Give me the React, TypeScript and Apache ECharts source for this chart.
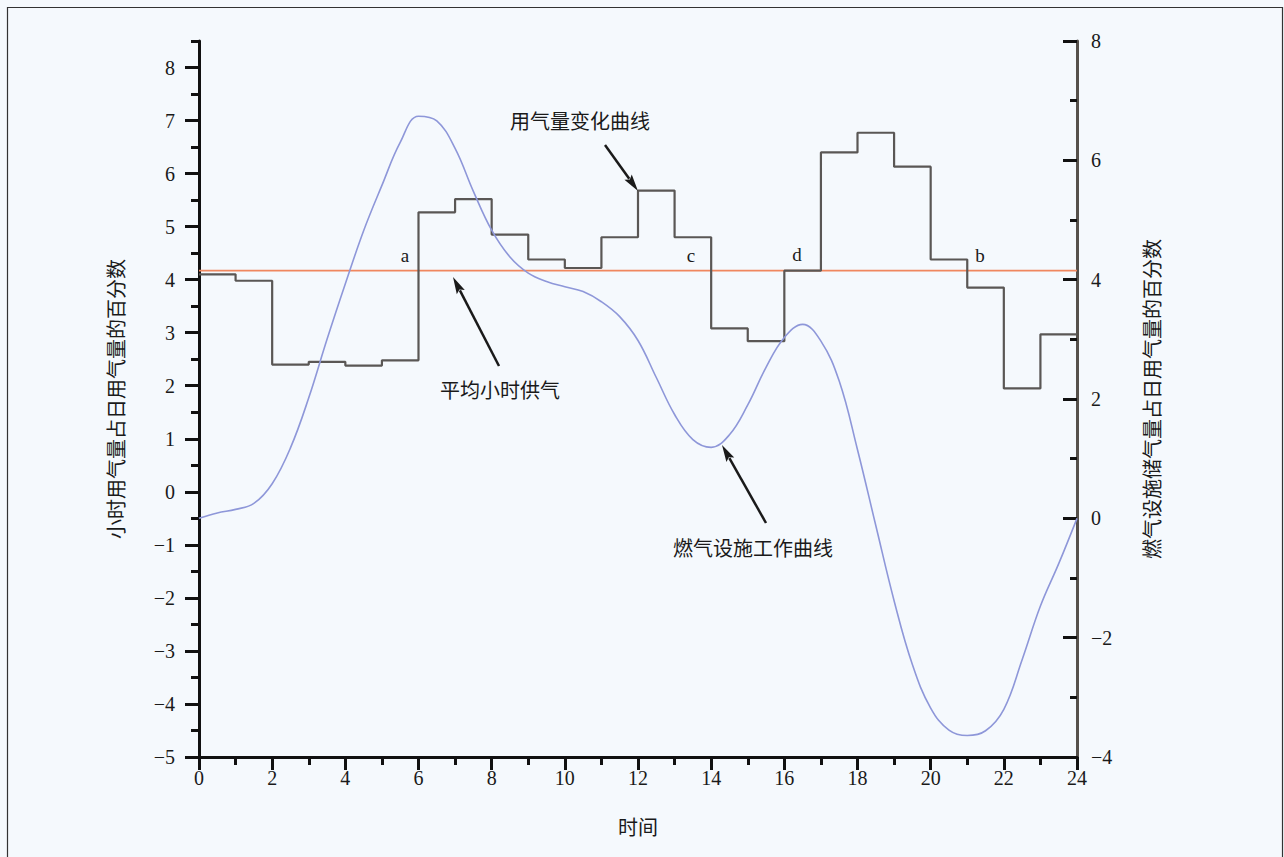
import React, { useEffect, useRef } from "react";
import * as echarts from "echarts";

// Hourly gas use (% of daily), left axis, value for hour interval [i, i+1]
const hourStarts = [0, 1, 2, 3, 4, 5, 6, 7, 8, 9, 10, 11, 12, 13, 14, 15, 16, 17, 18, 19, 20, 21, 22, 23];
const hourlyUse = [4.1, 3.98, 2.4, 2.45, 2.38, 2.48, 5.27, 5.52, 4.85, 4.38, 4.22, 4.8, 5.68, 4.8, 3.08, 2.84, 4.17, 6.4, 6.77, 6.13, 4.38, 3.85, 1.95, 2.97];
const averageSupply = 4.17;

// Storage facility working curve (right axis), read every half hour
const curveX = [0, 0.5, 1, 1.5, 2, 2.5, 3, 3.5, 4, 4.5, 5, 5.5, 6, 6.5, 7, 7.5, 8, 8.5, 9, 9.5, 10, 10.5, 11, 11.5, 12, 12.5, 13, 13.5, 14, 14.5, 15, 15.5, 16, 16.5, 17, 17.5, 18, 18.5, 19, 19.5, 20, 20.5, 21, 21.5, 22, 22.5, 23, 23.5, 24];
const curveY = [0, 0.09, 0.15, 0.25, 0.58, 1.18, 2.02, 3.0, 3.93, 4.82, 5.58, 6.3, 6.74, 6.66, 6.2, 5.48, 4.83, 4.38, 4.11, 3.97, 3.88, 3.8, 3.63, 3.38, 2.98, 2.36, 1.74, 1.32, 1.19, 1.4, 1.9, 2.53, 3.03, 3.25, 2.97, 2.3, 1.15, -0.12, -1.38, -2.45, -3.18, -3.55, -3.64, -3.56, -3.2, -2.37, -1.47, -0.76, 0];

const leftTicks = [-5, -4, -3, -2, -1, 0, 1, 2, 3, 4, 5, 6, 7, 8];

const FONT = "'Liberation Serif', 'Noto Sans CJK SC', serif";
const BG = "#f5f9fd";
const TICK_FS = 20;
const CJK_FS = 20;

function arrow(sx: number, sy: number, tx: number, ty: number) {
  const dx = tx - sx;
  const dy = ty - sy;
  const len = Math.sqrt(dx * dx + dy * dy);
  const ux = dx / len;
  const uy = dy / len;
  const L = 17;
  const W = 9;
  const bx = tx - ux * L;
  const by = ty - uy * L;
  const nx = -uy;
  const ny = ux;
  return [
    {
      type: "line",
      shape: { x1: sx, y1: sy, x2: bx + ux * 2, y2: by + uy * 2 },
      style: { stroke: "#1a1a1a", lineWidth: 2.5 },
      z: 10,
    },
    {
      type: "polygon",
      shape: {
        points: [
          [tx, ty],
          [bx + (nx * W) / 2, by + (ny * W) / 2],
          [bx + ux * 3, by + uy * 3],
          [bx - (nx * W) / 2, by - (ny * W) / 2],
        ],
      },
      style: { fill: "#1a1a1a" },
      z: 10,
    },
  ];
}

function txt(x: number, y: number, text: string, size = CJK_FS) {
  return {
    type: "text",
    x,
    y,
    style: {
      text,
      fill: "#1a1a1a",
      font: `${size}px ${FONT}`,
      align: "center",
      verticalAlign: "middle",
    },
    z: 10,
  };
}

const minus = (v: number) => String(v).replace("-", "\u2212");

export default function App() {
  const ref = useRef<HTMLDivElement>(null);

  useEffect(() => {
    document.body.style.margin = "0";
    document.body.style.background = BG;
    if (!ref.current) return;
    const chart = echarts.init(ref.current, undefined, { renderer: "svg" });

    const stepData = hourStarts.map((h, i) => [h, hourlyUse[i]]);
    stepData.push([24, hourlyUse[hourlyUse.length - 1]]);
    const curveData = curveX.map((x, i) => [x, curveY[i]]);

    const option: any = {
      animation: false,
      backgroundColor: BG,
      textStyle: { fontFamily: FONT },
      grid: { left: 199, right: 207, top: 41, bottom: 100, containLabel: false },
      xAxis: {
        type: "value",
        min: 0,
        max: 24,
        interval: 2,
        name: "时间",
        nameLocation: "middle",
        nameGap: 61,
        nameTextStyle: { fontSize: CJK_FS, color: "#1a1a1a", fontFamily: FONT },
        axisLine: { show: true, onZero: false, lineStyle: { color: "#111", width: 3 } },
        axisTick: { show: true, length: 13, lineStyle: { color: "#111", width: 3 } },
        minorTick: { show: true, splitNumber: 2, length: 8, lineStyle: { color: "#111", width: 3 } },
        axisLabel: { fontSize: TICK_FS, color: "#1a1a1a", margin: 11, fontFamily: FONT },
        splitLine: { show: false },
      },
      yAxis: [
        {
          type: "value",
          position: "left",
          min: -5,
          max: 8.5,
          interval: 0.5,
          name: "小时用气量占日用气量的百分数",
          nameLocation: "middle",
          nameRotate: 90,
          nameGap: 72,
          nameTextStyle: { fontSize: CJK_FS, color: "#1a1a1a", fontFamily: FONT },
          axisLine: { show: true, onZero: false, lineStyle: { color: "#111", width: 3 } },
          axisTick: { show: true, length: 8, lineStyle: { color: "#111", width: 3 } },
          axisLabel: {
            fontSize: TICK_FS,
            color: "#1a1a1a",
            margin: 24,
            fontFamily: FONT,
            formatter: (v: number) => (Number.isInteger(v) && v <= 8 ? minus(v) : ""),
          },
          splitLine: { show: false },
        },
        {
          type: "value",
          position: "right",
          min: -4,
          max: 8,
          interval: 2,
          name: "燃气设施储气量占日用气量的百分数",
          nameLocation: "middle",
          nameRotate: 90,
          nameGap: 66,
          nameTextStyle: { fontSize: CJK_FS, color: "#1a1a1a", fontFamily: FONT },
          axisLine: { show: true, onZero: false, lineStyle: { color: "#55504b", width: 3 } },
          axisTick: { show: true, inside: true, length: 14, lineStyle: { color: "#111", width: 3 } },
          minorTick: { show: true, splitNumber: 2, length: 7, lineStyle: { color: "#111", width: 3 } },
          axisLabel: {
            fontSize: TICK_FS,
            color: "#1a1a1a",
            margin: 14,
            fontFamily: FONT,
            formatter: (v: number) => minus(v),
          },
          splitLine: { show: false },
        },
        {
          type: "value",
          position: "left",
          min: -5,
          max: 8.5,
          interval: 0.5,
          axisLine: { show: false, onZero: false },
          axisTick: {
            show: true,
            length: 14,
            customValues: leftTicks,
            lineStyle: { color: "#111", width: 3 },
          },
          axisLabel: { show: false },
          splitLine: { show: false },
        },
      ],
      series: [
        {
          name: "平均小时供气",
          type: "line",
          yAxisIndex: 0,
          data: [
            [0, averageSupply],
            [24, averageSupply],
          ],
          symbol: "none",
          lineStyle: { color: "#f0875f", width: 1.8 },
          z: 3,
        },
        {
          name: "用气量变化曲线",
          type: "line",
          yAxisIndex: 0,
          step: "end",
          data: stepData,
          symbol: "none",
          lineStyle: { color: "#5a5755", width: 2.2 },
          z: 4,
        },
        {
          name: "燃气设施工作曲线",
          type: "line",
          yAxisIndex: 1,
          smooth: 0.4,
          data: curveData,
          symbol: "none",
          lineStyle: { color: "#8e97d9", width: 1.6 },
          z: 5,
        },
      ],
      graphic: [
        {
          type: "rect",
          shape: { x: 7.5, y: 7.5, width: 1275, height: 870 },
          style: { fill: "none", stroke: "#333", lineWidth: 1.2 },
          z: 0,
          silent: true,
        },
        txt(580, 122, "用气量变化曲线"),
        ...arrow(605, 145, 638, 191),
        txt(500, 391, "平均小时供气"),
        ...arrow(499, 366, 453, 277),
        txt(753, 549, "燃气设施工作曲线"),
        ...arrow(766, 523, 722, 445),
        txt(405, 255, "a", 19),
        txt(691, 255, "c", 19),
        txt(797, 254, "d", 19),
        txt(980, 255, "b", 19),
      ],
    };

    chart.setOption(option);
    return () => chart.dispose();
  }, []);

  return <div ref={ref} style={{ width: 1284, height: 857 }} />;
}
